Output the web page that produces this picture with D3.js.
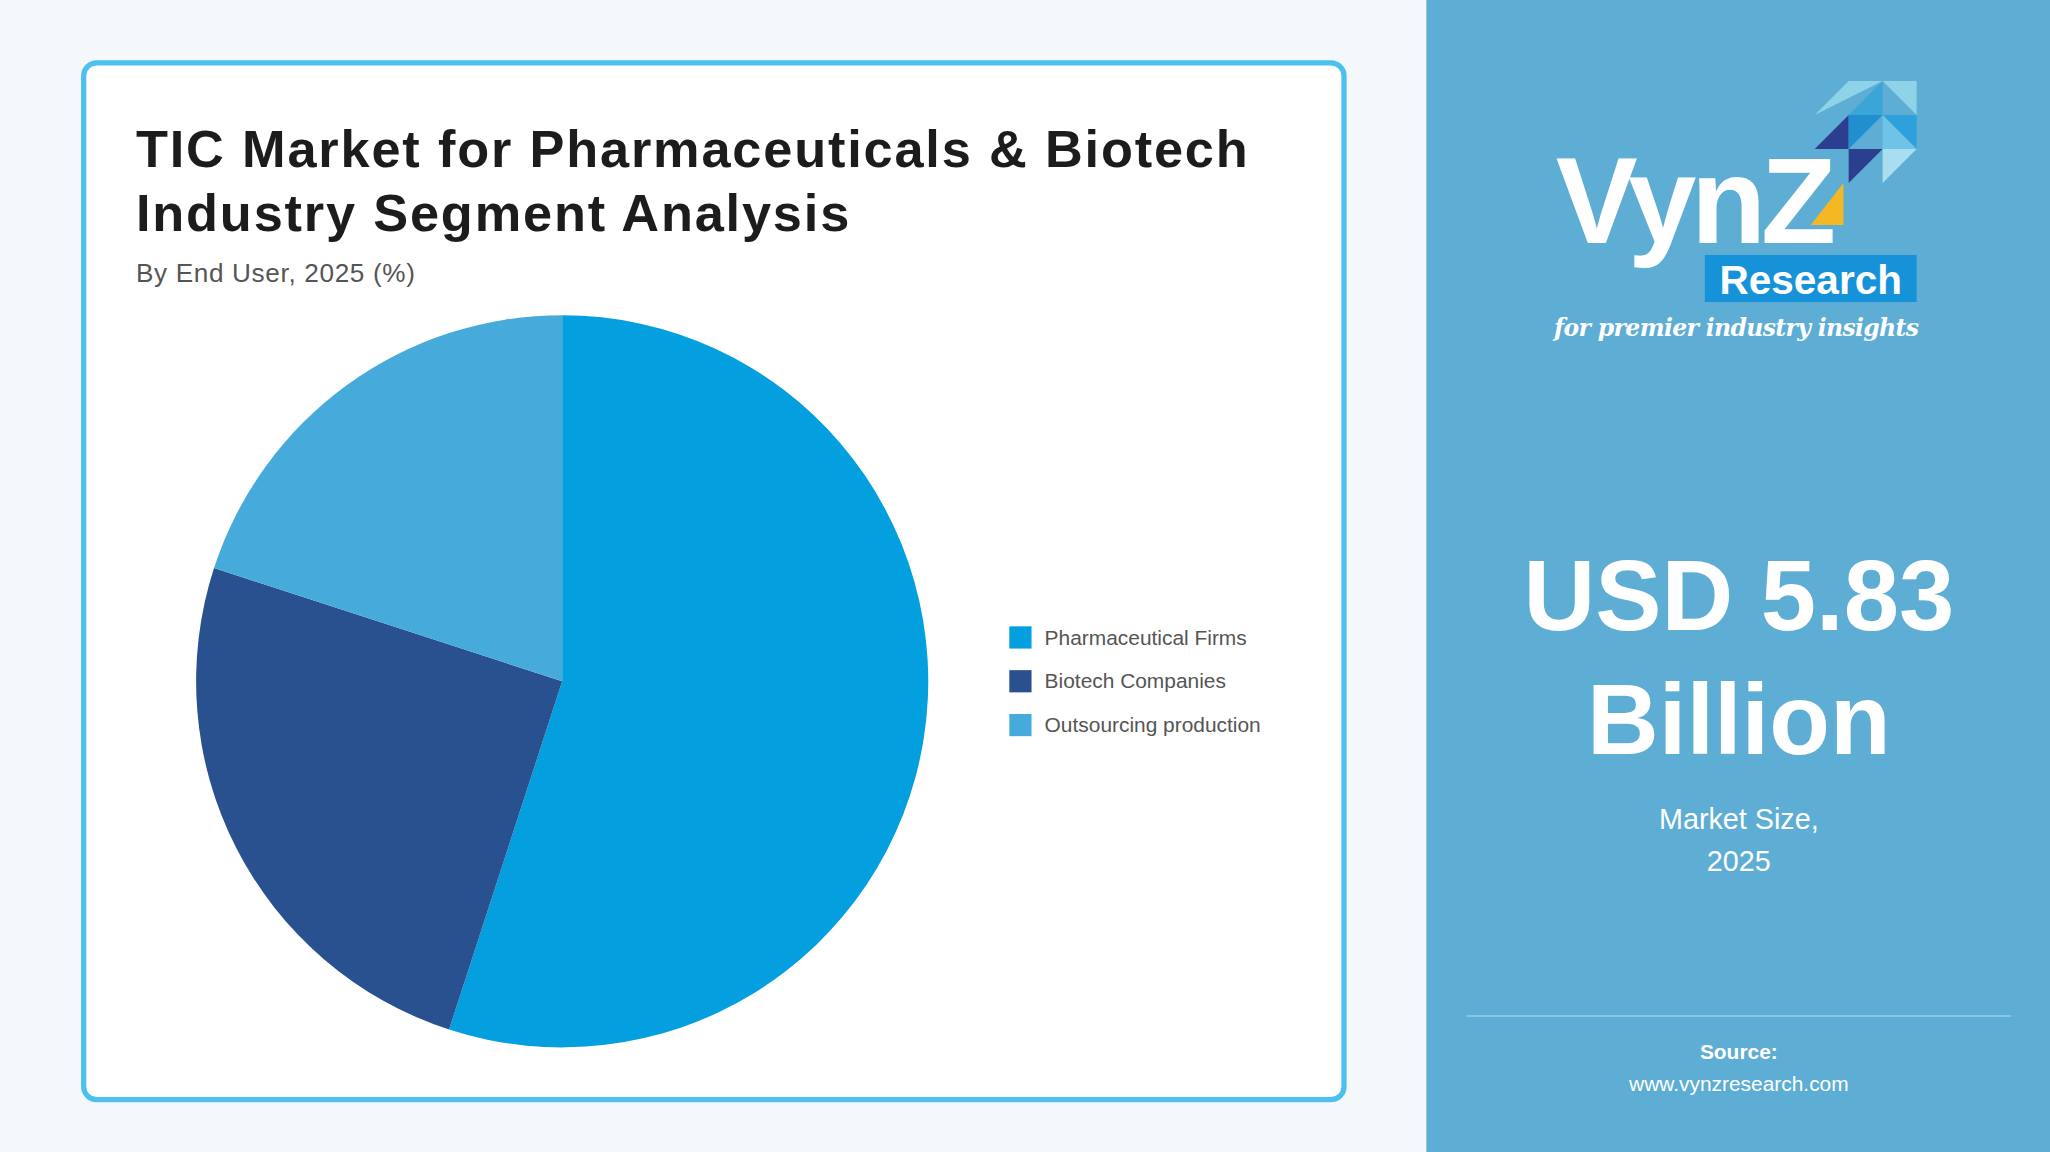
<!DOCTYPE html>
<html><head><meta charset="utf-8">
<script src="https://cdn.jsdelivr.net/npm/d3@7"></script>
<style>html,body{margin:0;padding:0;overflow:hidden;background:#f4f8fb}</style>
</head><body>
<svg id="chart" width="2050" height="1152"></svg>
<script>
// data
const categories = ['Pharmaceutical Firms', 'Biotech Companies', 'Outsourcing production'];
const shares = [55, 25, 20];
const colors = ['#039fdf', '#29508f', '#46abdb'];

const svg = d3.select('#chart').attr('viewBox', '0 0 1568 881').attr('preserveAspectRatio', 'none');
const font = '"Liberation Sans", Arial, sans-serif';

svg.append('rect').attr('width', 1568).attr('height', 881).attr('fill', '#f4f8fb');

// card
svg.append('rect').attr('x', 64).attr('y', 48).attr('width', 964).attr('height', 793)
  .attr('rx', 10).attr('fill', '#fff').attr('stroke', '#4cc0ef').attr('stroke-width', 4);

svg.append('text').attr('x', 104).attr('y', 128).attr('font-family', font).attr('font-weight', 700)
  .attr('font-size', 40).attr('letter-spacing', 1.4).attr('fill', '#1c1c1c').text('TIC Market for Pharmaceuticals & Biotech');
svg.append('text').attr('x', 104).attr('y', 177).attr('font-family', font).attr('font-weight', 700)
  .attr('font-size', 40).attr('letter-spacing', 1.4).attr('fill', '#1c1c1c').text('Industry Segment Analysis');
svg.append('text').attr('x', 104).attr('y', 216).attr('font-family', font)
  .attr('font-size', 20).attr('letter-spacing', 0.5).attr('fill', '#555').text('By End User, 2025 (%)');

// pie
const pie = d3.pie().sort(null).value(d => d);
const arc = d3.arc().innerRadius(0).outerRadius(280);
svg.append('g').attr('transform', 'translate(430,521)')
  .selectAll('path').data(pie(shares)).join('path')
  .attr('d', arc).attr('fill', (d, i) => colors[i]);

// legend
const leg = svg.append('g').selectAll('g').data(categories).join('g')
  .attr('transform', (d, i) => `translate(772,${479 + i * 33.5})`);
leg.append('rect').attr('width', 17).attr('height', 17).attr('fill', (d, i) => colors[i]);
leg.append('text').attr('x', 27).attr('y', 14).attr('font-family', font).attr('font-size', 16)
  .attr('fill', '#555').text(d => d);

// right panel
svg.append('rect').attr('x', 1091).attr('y', 0).attr('width', 477).attr('height', 881).attr('fill', '#5eadd5');

// logo
const tri = [
  [[1388,88],[1414,62],[1440,62]], [[1414,88],[1440,62],[1440,88]],
  [[1440,62],[1466,62],[1466,88]], [[1440,88],[1466,88],[1466,114]],
  [[1388,114],[1414,88],[1414,114]], [[1414,88],[1440,88],[1414,114]],
  [[1414,114],[1440,114],[1414,140]], [[1440,114],[1466,114],[1440,140]],
  [[1440,88],[1466,114],[1440,114]]
];
const triCol = ['#8fd3e8','#3aa6d8','#8fd3e8','#2fa0dc','#2c3e8f','#1f8fd0','#2b3f8e','#a9def0','#6ec4e8'];
svg.append('g').selectAll('polygon').data(tri).join('polygon')
  .attr('points', d => d.join(' ')).attr('fill', (d, i) => triCol[i]);
svg.append('text').attr('x', 1190).attr('y', 186).attr('font-family', font).attr('font-weight', 700)
  .attr('font-size', 94).attr('fill', '#fff').attr('letter-spacing', -4).text('VynZ');
svg.append('polygon').attr('points', '1385,172 1410,140 1410,172').attr('fill', '#f3b824');
svg.append('rect').attr('x', 1304).attr('y', 195).attr('width', 162).attr('height', 36).attr('fill', '#1592d8');
svg.append('text').attr('x', 1385).attr('y', 225).attr('text-anchor', 'middle').attr('font-family', font)
  .attr('font-weight', 700).attr('font-size', 31).attr('fill', '#fff').text('Research');
svg.append('text').attr('x', 1328).attr('y', 257).attr('text-anchor', 'middle').attr('font-family', 'DejaVu Serif, serif')
  .attr('font-style', 'italic').attr('font-weight', 700).attr('font-size', 18).attr('fill', '#fff')
  .attr('letter-spacing', -0.5).text('for premier industry insights');

const right = [
  ['USD 5.83', 482, 76, 700], ['Billion', 577, 76, 700],
  ['Market Size,', 634, 22, 400], ['2025', 666, 22, 400],
  ['Source:', 810, 16, 700], ['www.vynzresearch.com', 834, 16, 400]
];
svg.append('g').selectAll('text').data(right).join('text')
  .attr('x', 1330).attr('y', d => d[1]).attr('text-anchor', 'middle').attr('font-family', font)
  .attr('font-size', d => d[2]).attr('font-weight', d => d[3]).attr('fill', '#fff').text(d => d[0]);
svg.append('line').attr('x1', 1122).attr('x2', 1538).attr('y1', 777).attr('y2', 777)
  .attr('stroke', '#8cc6e4').attr('stroke-width', 1.5);
</script>
</body></html>
